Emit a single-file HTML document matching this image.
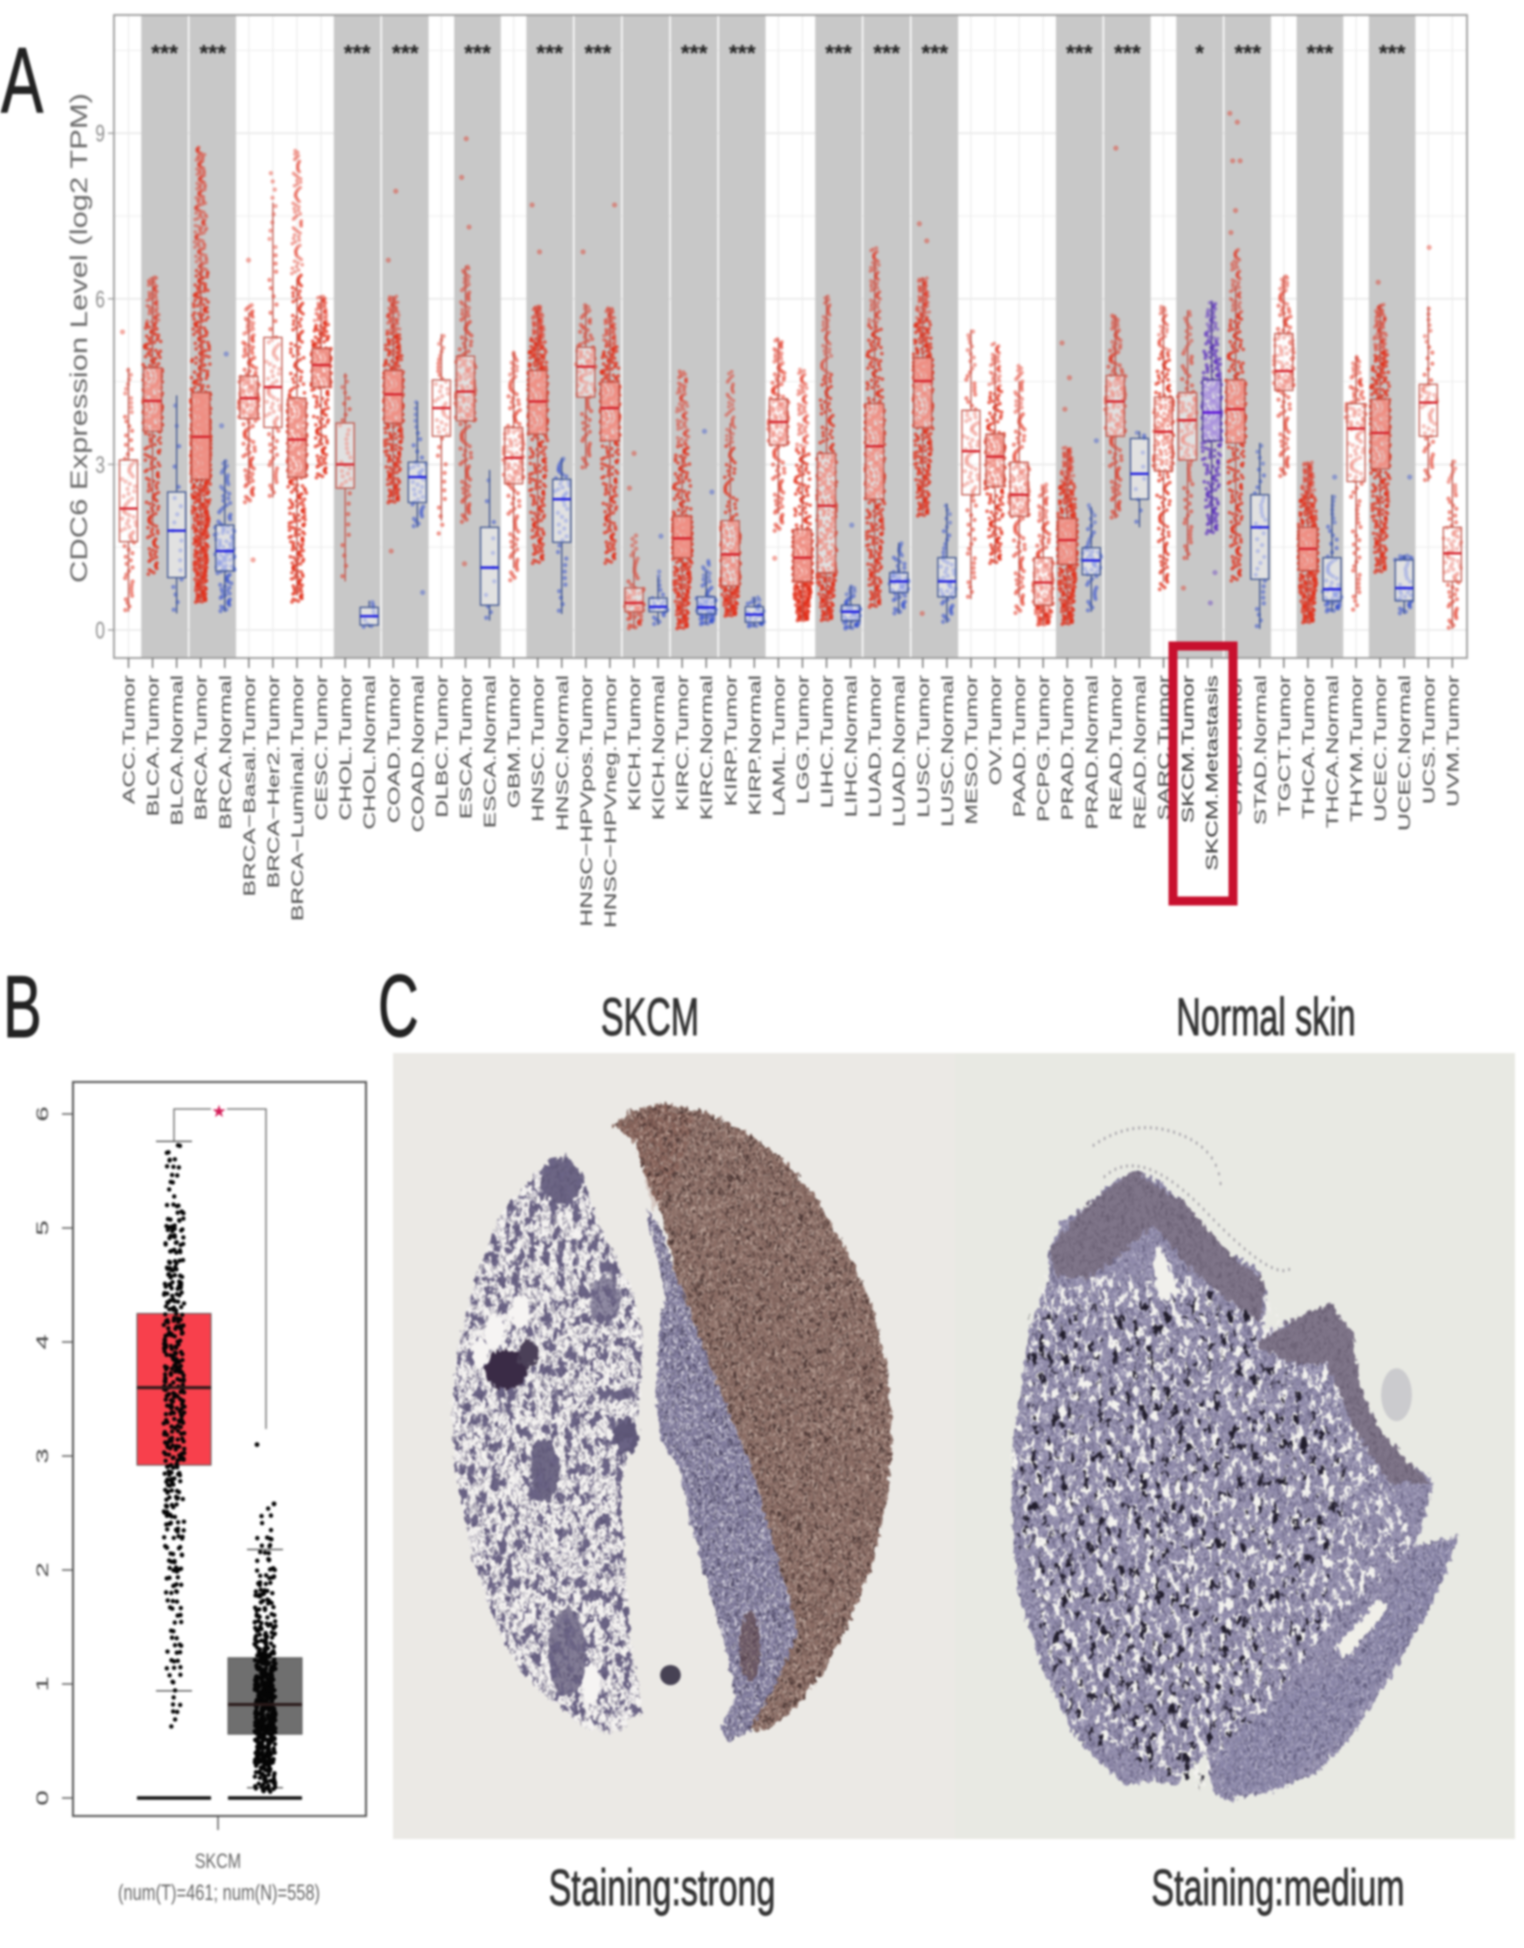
<!DOCTYPE html>
<html lang="en">
<head>
<meta charset="utf-8">
<title>CDC6 expression figure</title>
<style>
html,body{margin:0;padding:0;background:#fff}
svg{display:block;filter:blur(1px)}
text{font-family:"Liberation Sans",sans-serif}
</style>
</head>
<body>
<svg id="fig" xmlns="http://www.w3.org/2000/svg" width="1524" height="1948" viewBox="0 0 1524 1948">
<defs>
<filter id="rough" x="-5%" y="-5%" width="110%" height="110%" color-interpolation-filters="sRGB">
  <feTurbulence type="fractalNoise" baseFrequency=".09" numOctaves="2" seed="3" result="n"/>
  <feDisplacementMap in="SourceGraphic" in2="n" scale="22" xChannelSelector="R" yChannelSelector="G"/>
</filter>
<filter id="netCoarse" x="0" y="0" width="1" height="1" color-interpolation-filters="sRGB">
  <feTurbulence type="fractalNoise" baseFrequency=".05" numOctaves="4" seed="11"/>
  <feColorMatrix type="matrix" values="0 0 0 0 0 0 0 0 0 0 0 0 0 0 0 26 0 0 0 -14.3" result="m"/>
  <feComposite in="SourceGraphic" in2="m" operator="in"/>
</filter>
<filter id="speckDark" x="0" y="0" width="1" height="1" color-interpolation-filters="sRGB">
  <feTurbulence type="fractalNoise" baseFrequency=".16" numOctaves="2" seed="5"/>
  <feColorMatrix type="matrix" values="0 0 0 0 0 0 0 0 0 0 0 0 0 0 0 18 0 0 0 -10" result="m"/>
  <feComposite in="SourceGraphic" in2="m" operator="in"/>
</filter>
<filter id="speckLight" x="0" y="0" width="1" height="1" color-interpolation-filters="sRGB">
  <feTurbulence type="fractalNoise" baseFrequency=".18" numOctaves="2" seed="23"/>
  <feColorMatrix type="matrix" values="0 0 0 0 0 0 0 0 0 0 0 0 0 0 0 18 0 0 0 -10.2" result="m"/>
  <feComposite in="SourceGraphic" in2="m" operator="in"/>
</filter>
<filter id="holesMid" x="0" y="0" width="1" height="1" color-interpolation-filters="sRGB">
  <feTurbulence type="fractalNoise" baseFrequency=".06" numOctaves="4" seed="31"/>
  <feColorMatrix type="matrix" values="0 0 0 0 0 0 0 0 0 0 0 0 0 0 0 20 0 0 0 -11.3" result="m"/>
  <feComposite in="SourceGraphic" in2="m" operator="in"/>
</filter>
<filter id="darkMid" x="0" y="0" width="1" height="1" color-interpolation-filters="sRGB">
  <feTurbulence type="fractalNoise" baseFrequency=".05" numOctaves="3" seed="47"/>
  <feColorMatrix type="matrix" values="0 0 0 0 0 0 0 0 0 0 0 0 0 0 0 20 0 0 0 -12.8" result="m"/>
  <feComposite in="SourceGraphic" in2="m" operator="in"/>
</filter>
<path id="fatOutline" d="M500 310L550 345L600 430L680 520L710 600L700 720L650 830L660 950L680 1100L710 1190L640 1225L560 1220L470 1180L380 1130L310 1050L250 950L200 800L195 700L210 620L260 500L330 400L420 340Z"/>
<path id="brownOutline" d="M630 262L680 238L760 228L880 240L980 270L1080 310L1180 380L1270 470L1330 550L1370 640L1385 760L1370 860L1330 960L1270 1050L1200 1130L1100 1200L1030 1225L1000 1220L1060 1160L1130 1070L1100 1000L1050 900L1000 800L930 700L860 590L800 500L760 400L720 350L690 290Z"/>
<path id="blueOutline" d="M720 395L760 430L800 500L860 590L930 700L1000 800L1050 900L1100 1000L1130 1070L1060 1160L1030 1215L940 1240L920 1220L960 1170L930 1080L880 980L840 890L810 810L760 760L745 700L755 590L770 530L740 450Z"/>
<path id="skinOutline" d="M270 460L300 420L370 390L430 360L500 335L570 350L640 385L700 430L770 470L840 490L865 530L855 590L940 570L1040 545L1100 590L1120 680L1180 750L1260 800L1320 825L1300 880L1270 930L1390 915L1350 980L1290 1050L1200 1140L1100 1230L1000 1290L880 1320L760 1335L720 1320L700 1260L640 1290L620 1310L560 1300L480 1310L400 1270L330 1220L250 1120L190 1010L170 900L170 770L190 690L220 580L270 510Z"/>
<path id="skinBandA" d="M270 460L370 390L500 335L640 385L770 470L860 510L850 575L760 540L640 480L560 420L460 470L380 505L290 500Z"/>
<path id="skinBandB" d="M835 610L940 570L1040 545L1100 590L1120 680L1180 750L1260 800L1310 830L1200 830L1100 740L1030 640L930 640Z"/>
<path id="skinSolid" d="M1270 940L1380 925L1320 1020L1190 1130L1060 1240L880 1315L745 1325L730 1260L900 1170L1100 1120Z"/>
</defs>

<rect width="1524" height="1948" fill="#fff"/>

<g id="panelA"></g>

<text transform="translate(1,112) scale(.68,1)" font-size="93" fill="#222" stroke="#222" stroke-width="1">A</text>
<text transform="translate(3,1037) scale(.66,1)" font-size="88" fill="#222" stroke="#222" stroke-width="1">B</text>
<text transform="translate(378,1036) scale(.64,1)" font-size="88" fill="#222" stroke="#222" stroke-width="1">C</text>

<g id="panelB"></g>

<g>
  <rect x="393" y="1053" width="562" height="786" fill="#ebe9e5"/>
  <rect x="955" y="1053" width="560" height="786" fill="#e8e9e3"/>

  <g transform="translate(380 960) scale(.37 .63)">
    <g filter="url(#rough)">
      <use href="#fatOutline" fill="#f4f2f1"/>
      <ellipse cx="490" cy="350" rx="55" ry="35" fill="#6d6685"/>
      <ellipse cx="445" cy="810" rx="38" ry="50" fill="#6f6986"/>
      <ellipse cx="505" cy="1100" rx="50" ry="70" fill="#6f6986" opacity=".85"/>
      <ellipse cx="665" cy="755" rx="35" ry="28" fill="#5f5879"/>
      <ellipse cx="610" cy="540" rx="40" ry="40" fill="#777190" opacity=".8"/>
      <use href="#fatOutline" fill="#6b6486" filter="url(#netCoarse)"/>
      <use href="#fatOutline" fill="#57506f" filter="url(#speckDark)" opacity=".6"/>
      <ellipse cx="340" cy="650" rx="55" ry="32" fill="#3a2b46"/>
      <ellipse cx="400" cy="625" rx="25" ry="22" fill="#4b4058"/>
      <ellipse cx="310" cy="590" rx="28" ry="28" fill="#f6f4f3"/>
      <ellipse cx="270" cy="625" rx="22" ry="24" fill="#f6f4f3"/>
      <ellipse cx="380" cy="560" rx="28" ry="26" fill="#f6f4f3"/>
      <ellipse cx="570" cy="1150" rx="24" ry="34" fill="#f6f4f3"/>
      <use href="#blueOutline" fill="#827d9e"/>
      <use href="#blueOutline" fill="#3f3a55" filter="url(#speckDark)" opacity=".7"/>
      <use href="#blueOutline" fill="#e6e4ec" filter="url(#speckLight)" opacity=".75"/>
      <use href="#brownOutline" fill="#8a6c64"/>
      <path d="M640 262L760 232L850 250L800 340L740 400L690 290Z" fill="#7d3f33" opacity=".2"/>
      <ellipse cx="1000" cy="1090" rx="28" ry="55" fill="#54332e" opacity=".5"/>
      <use href="#brownOutline" fill="#3a2827" filter="url(#speckDark)" opacity=".75"/>
      <use href="#brownOutline" fill="#c8b2a8" filter="url(#speckLight)" opacity=".7"/>
    </g>
    <ellipse cx="785" cy="1135" rx="28" ry="16" fill="#474254"/>
  </g>

  <g transform="translate(950 960) scale(.366 .63)">
    <g filter="url(#rough)">
      <use href="#skinOutline" fill="#8f8aaa"/>
      <use href="#skinOutline" fill="#4e4968" filter="url(#speckDark)" opacity=".6"/>
      <use href="#skinOutline" fill="#c6c3d6" filter="url(#speckLight)" opacity=".6"/>
      <path d="M250 500L800 500L1120 700L1270 930L1000 1080L700 1320L300 1200L160 800Z" fill="#f3f2ef" filter="url(#holesMid)"/>
      <path d="M220 560L760 520L1100 800L1000 1080L700 1320L330 1230L170 900Z" fill="#211d2c" filter="url(#darkMid)"/>
      <use href="#skinBandA" fill="#7f7589"/>
      <use href="#skinBandB" fill="#7f7589"/>
      <use href="#skinSolid" fill="#8a86a8"/>
      <use href="#skinBandA" fill="#55495e" filter="url(#speckDark)" opacity=".45"/>
      <use href="#skinBandB" fill="#55495e" filter="url(#speckDark)" opacity=".45"/>
      <use href="#skinSolid" fill="#4e4968" filter="url(#speckDark)" opacity=".6"/>
      <use href="#skinSolid" fill="#c6c3d6" filter="url(#speckLight)" opacity=".6"/>
      <path d="M570 450L630 530L570 540L555 480Z" fill="#f1f0ec"/>
      <path d="M1050 1090L1180 1010L1195 1030L1085 1110Z" fill="#f0efe9"/>
    </g>
    <ellipse cx="1220" cy="690" rx="42" ry="42" fill="#a8a6b4" opacity=".45"/>
    <path d="M390 295Q500 250 620 275T740 365M420 345Q520 290 700 400T930 490" fill="none" stroke="#75707f" stroke-width="5" stroke-dasharray="5 11" opacity=".55"/>
  </g>

  <text transform="translate(650,1035) scale(1,1.55)" text-anchor="middle" font-size="34" fill="#333" stroke="#333" stroke-width=".6">SKCM</text>
  <text transform="translate(1266,1035) scale(1,1.55)" text-anchor="middle" font-size="34" fill="#333" stroke="#333" stroke-width=".6">Normal skin</text>
  <text transform="translate(662,1905) scale(1,1.5)" text-anchor="middle" font-size="34" fill="#333" stroke="#333" stroke-width=".6">Staining:strong</text>
  <text transform="translate(1278,1905) scale(1,1.5)" text-anchor="middle" font-size="34" fill="#333" stroke="#333" stroke-width=".6">Staining:medium</text>
</g>
</svg>

<script>
// ---------- Panel A data ----------
const categories = ["ACC.Tumor","BLCA.Tumor","BLCA.Normal","BRCA.Tumor","BRCA.Normal","BRCA\u2212Basal.Tumor","BRCA\u2212Her2.Tumor","BRCA\u2212Luminal.Tumor","CESC.Tumor","CHOL.Tumor","CHOL.Normal","COAD.Tumor","COAD.Normal","DLBC.Tumor","ESCA.Tumor","ESCA.Normal","GBM.Tumor","HNSC.Tumor","HNSC.Normal","HNSC\u2212HPVpos.Tumor","HNSC\u2212HPVneg.Tumor","KICH.Tumor","KICH.Normal","KIRC.Tumor","KIRC.Normal","KIRP.Tumor","KIRP.Normal","LAML.Tumor","LGG.Tumor","LIHC.Tumor","LIHC.Normal","LUAD.Tumor","LUAD.Normal","LUSC.Tumor","LUSC.Normal","MESO.Tumor","OV.Tumor","PAAD.Tumor","PCPG.Tumor","PRAD.Tumor","PRAD.Normal","READ.Tumor","READ.Normal","SARC.Tumor","SKCM.Tumor","SKCM.Metastasis","STAD.Tumor","STAD.Normal","TGCT.Tumor","THCA.Tumor","THCA.Normal","THYM.Tumor","UCEC.Tumor","UCEC.Normal","UCS.Tumor","UVM.Tumor"];
const q1Values = [1.6,3.6,.95,2.73,1.07,3.83,3.67,2.77,4.4,2.57,.09,3.75,2.31,3.51,3.79,.45,2.65,3.55,1.59,4.22,3.43,.33,.33,1.31,.29,.8,.14,3.35,.88,1.04,.17,2.37,.68,3.67,.6,2.45,2.6,2.06,.45,1.19,1.0,3.51,2.37,2.88,3.08,3.43,3.39,.92,4.34,1.08,.53,2.69,2.92,.53,3.51,.88];
const medianValues = [2.2,4.15,1.8,3.5,1.43,4.2,4.4,3.45,4.8,3.0,.25,4.27,2.77,4.02,4.32,1.13,3.12,4.14,2.37,4.77,4.02,.49,.42,1.66,.41,1.37,.28,3.77,1.31,2.25,.33,3.33,.88,4.51,.88,3.24,3.14,2.45,.86,1.63,1.26,4.14,2.83,3.59,3.8,3.94,4.0,1.86,4.69,1.47,.74,3.65,3.57,.76,4.12,1.39];
const q3Values = [3.08,4.75,2.5,4.3,1.9,4.6,5.3,4.2,5.1,3.75,.41,4.7,3.04,4.53,4.96,1.86,3.67,4.7,2.73,5.12,4.49,.76,.58,2.06,.6,1.98,.42,4.18,1.82,3.2,.45,4.1,1.04,4.93,1.31,3.98,3.55,3.04,1.31,2.02,1.49,4.61,3.47,4.22,4.3,4.53,4.53,2.45,5.37,1.86,1.31,4.1,4.18,1.27,4.45,1.86];
const lowValues = [.33,1.0,.3,.5,.33,2.3,2.4,.5,2.75,.88,.05,2.3,1.86,1.67,1.94,.17,.88,1.2,.29,2.92,1.2,.02,.09,.02,.1,.25,.06,1.78,.17,.17,.02,.41,.29,2.06,.13,.56,1.2,.29,.09,.1,.33,2.02,1.86,.72,1.27,1.74,.88,.02,2.77,.13,.33,.33,1.04,.29,2.69,.02];
const highValues = [4.75,6.4,4.25,8.75,3.08,5.9,8.35,8.7,6.05,4.65,.53,6.05,4.18,5.36,6.6,2.9,5.04,5.87,3.12,5.9,5.84,1.74,1.1,4.7,1.27,4.7,.6,5.28,4.73,6.06,.8,6.93,1.59,6.38,2.29,5.44,5.2,4.8,2.65,3.31,2.29,5.71,3.6,5.87,5.79,5.95,6.9,3.39,6.42,3.04,2.45,4.96,5.9,1.35,5.87,3.08];
const sampleCounts = [79,408,19,1093,112,191,82,566,304,36,9,457,41,47,184,11,153,520,44,97,421,66,25,533,72,290,32,173,516,371,50,515,59,501,51,87,303,178,179,497,52,166,10,259,103,368,415,35,150,501,59,120,545,35,57,80];
const outlierCategoryIndex = [0,4,4,5,5,11,11,11,12,14,14,14,14,17,17,19,20,21,21,22,24,24,30,33,33,33,39,39,39,40,41,44,45,45,46,46,46,46,46,46,50,52,53,54,27];
const outlierValues = [5.4,5.0,3.7,1.27,6.7,6.7,7.95,1.43,.68,8.9,8.2,7.3,1.2,7.7,6.85,6.85,7.7,3.2,2.57,1.7,3.6,2.5,1.9,7.36,7.05,.3,5.2,4.57,4.0,3.43,8.73,.76,1.04,.49,9.36,9.2,8.5,8.5,7.6,7.2,2.77,6.3,2.77,6.93,1.3];
const significantBandStart = [1,3,9,11,14,17,19,21,23,25,29,31,33,39,41,44,46,49,52];
const significanceLabels = ["***","***","***","***","***","***","***","","***","***","***","***","***","***","***","*","***","***","***"];
const yTickValuesA = [0,3,6,9];
const yGridValuesA = [0,1.5,3,4.5,6,7.5,9,10.5];

// ---------- Panel B data ----------
const skcmBoxNames = ["Tumor","Normal"];
const skcmQ1 = [2.92,.56];
const skcmMedian = [3.6,.82];
const skcmQ3 = [4.25,1.23];
const skcmWhiskerLow = [.94,.09];
const skcmWhiskerHigh = [5.76,2.18];
const skcmTumorBinStart = .5;
const skcmTumorBinCounts = [2,6,10,10,10,14,18,22,24,32,34,36,38,38,34,30,28,24,18,6,10];
const skcmNormalBinStart = .05;
const skcmNormalBinCounts = [50,90,115,105,80,45,30,22,14,5];
const skcmNormalExtremes = [2.58,3.1];
const skcmBinWidth = .25;
const yTickValuesB = [0,1,2,3,4,5,6];

const NS = "http://www.w3.org/2000/svg";
function mk(parent, tag, attrs, txt){
  const el = document.createElementNS(NS, tag);
  for (const k in attrs) el.setAttribute(k, attrs[k]);
  if (txt !== undefined) el.textContent = txt;
  parent.appendChild(el);
  return el;
}

// ---------- Panel A drawing ----------
(function(){
  const root = document.getElementById("panelA");
  const L=114,R=1467,T=15,B=658;
  const xA = i => 128.5 + 24.07*i;
  const yA = v => 630 - 55.2*v;

  const bg = mk(root,"rect",{x:L,y:T,width:R-L,height:B-T,fill:"#fff"});
  
  

  yGridValuesA.forEach(v=>{
    const g = mk(root,"line",{x1:L,x2:R,y1:yA(v),y2:yA(v),stroke:"#e9e9e9","stroke-width":v%3===0?1.6:.8});
    
    
  });
  categories.forEach((c,i)=>{
    const g = mk(root,"line",{x1:xA(i),x2:xA(i),y1:T,y2:B,stroke:"#ececec","stroke-width":1.2});
    
    
  });
  significantBandStart.forEach(s=>{
    const b = mk(root,"rect",{x:xA(s)-11.3,y:T,width:46.6,height:B-T,fill:"#c8c8c8"});
    
    
  });

  function palette(name){
    if (name.indexOf("Normal")>=0) return {dot:"#3550d0",edge:"#39508f",med:"#1a1ae0"};
    if (name.indexOf("Metastasis")>=0) return {dot:"#6236c0",edge:"#4a3a90",med:"#5a12d8"};
    return {dot:"#e2301c",edge:"#c0554a",med:"#d5202a"};
  }

  categories.forEach((name,i)=>{
    const col = palette(name);
    const knots = [lowValues[i],q1Values[i],medianValues[i],q3Values[i],highValues[i]];
    const n = sampleCounts[i];
    const group = mk(root,"g",{});
    
    

    for (let k=0;k<n;k++){
      const u = (k+.5)/n*4;
      const seg = Math.min(3,Math.floor(u));
      const f = u-seg;
      const v = knots[seg]+(knots[seg+1]-knots[seg])*f;
      const perUnit = n*.25/Math.max(.05,knots[seg+1]-knots[seg]);
      let hw = Math.min(10,4.5+.1*perUnit);
      if (seg===0) hw *= .5+.5*f;
      if (seg===3) hw *= 1-.6*f;
      const jitter = ((k*.6180339887+(k*k%97)*.0317)%1)*2-1;
      const p = mk(group,"circle",{cx:xA(i)+jitter*hw,cy:yA(v),r:n>250?1.9:2.2,fill:col.dot,"fill-opacity":seg===3&&f>.5?.42:(n>250?.68:.52)});
      
      
    }

    const iqr = q3Values[i]-q1Values[i];
    const whiskTop = Math.min(highValues[i],q3Values[i]+1.5*iqr);
    const whiskBot = Math.max(lowValues[i],q1Values[i]-1.5*iqr);
    const w1 = mk(group,"line",{x1:xA(i),x2:xA(i),y1:yA(q3Values[i]),y2:yA(whiskTop),stroke:col.edge,"stroke-width":1.3});
    
    
    const w2 = mk(group,"line",{x1:xA(i),x2:xA(i),y1:yA(q1Values[i]),y2:yA(whiskBot),stroke:col.edge,"stroke-width":1.3});
    
    
    const box = mk(group,"rect",{x:xA(i)-9,y:yA(q3Values[i]),width:18,height:yA(q1Values[i])-yA(q3Values[i]),fill:"#fff","fill-opacity":.46,stroke:col.edge,"stroke-width":1.3});
    
    
    const med = mk(group,"line",{x1:xA(i)-9,x2:xA(i)+9,y1:yA(medianValues[i]),y2:yA(medianValues[i]),stroke:col.med,"stroke-width":2.4});
    
    
  });

  outlierValues.forEach((v,j)=>{
    const idx = outlierCategoryIndex[j];
    const col = palette(categories[idx]);
    const o = mk(root,"circle",{cx:xA(idx)+((j*.618)%1-.5)*12,cy:yA(v),r:2.6,fill:col.dot,"fill-opacity":.42});
    
    
  });

  significantBandStart.forEach((s,j)=>{
    const t = mk(root,"text",{x:(xA(s)+xA(s+1))/2,y:61,"text-anchor":"middle","font-size":23,"font-weight":"bold",fill:"#222"},significanceLabels[j]);
    
    
  });

  const frame = mk(root,"rect",{x:L,y:T,width:R-L,height:B-T,fill:"none",stroke:"#9a9a9a","stroke-width":1.8});
  
  

  yTickValuesA.forEach(v=>{
    const tk = mk(root,"line",{x1:L-6,x2:L,y1:yA(v),y2:yA(v),stroke:"#999","stroke-width":1.3});
    
    
    const tl = mk(root,"text",{transform:"translate(105,"+(yA(v)+8.5)+") scale(1,1.4)","text-anchor":"end","font-size":17.5,fill:"#8e8e8e"},String(v));
    
    
  });

  categories.forEach((name,i)=>{
    const tk = mk(root,"line",{x1:xA(i),x2:xA(i),y1:B,y2:B+10,stroke:"#666","stroke-width":1.3});
    
    
    const tl = mk(root,"text",{transform:"translate("+(xA(i)+6)+",675) rotate(-90) scale(1.45,1)","text-anchor":"end","font-size":17,fill:name==="SKCM.Metastasis"||name==="SKCM.Tumor"?"#333":"#4c4c4c"},name);
    
    
  });

  const yTitle = mk(root,"text",{transform:"translate(87,338) rotate(-90)","text-anchor":"middle","font-size":24,fill:"#6a6a6a",textLength:490,lengthAdjust:"spacingAndGlyphs"},"CDC6 Expression Level (log2 TPM)");
  
  

  const hl = mk(root,"rect",{x:1173,y:646,width:60,height:255,fill:"none",stroke:"#c8102e","stroke-width":9});
  
  
})();

// ---------- Panel B drawing ----------
(function(){
  const root = document.getElementById("panelB");
  const L=73,R=366,T=1082,B=1816;
  const yB = v => 1798 - 114*v;
  const boxCenter = [174,265];
  const boxLeft = [137,228];
  const boxRight = [211,302];
  const boxFill = ["#f8404c","#6f6f6f"];
  const capHalf = 18;

  const bg = mk(root,"rect",{x:L,y:T,width:R-L,height:B-T,fill:"#fff"});
  
  

  skcmBoxNames.forEach((name,i)=>{
    const box = mk(root,"rect",{x:boxLeft[i],y:yB(skcmQ3[i]),width:boxRight[i]-boxLeft[i],height:yB(skcmQ1[i])-yB(skcmQ3[i]),fill:boxFill[i],stroke:"#555","stroke-width":1});
    
    
    const z = mk(root,"line",{x1:boxLeft[i],x2:boxRight[i],y1:yB(0),y2:yB(0),stroke:"#111","stroke-width":3.5});
    
    
    const wTop = mk(root,"line",{x1:boxCenter[i]-capHalf,x2:boxCenter[i]+capHalf,y1:yB(skcmWhiskerHigh[i]),y2:yB(skcmWhiskerHigh[i]),stroke:"#444","stroke-width":1.2});
    
    
    const wBot = mk(root,"line",{x1:boxCenter[i]-capHalf,x2:boxCenter[i]+capHalf,y1:yB(skcmWhiskerLow[i]),y2:yB(skcmWhiskerLow[i]),stroke:"#444","stroke-width":1.2});
    
    
  });

  function drawBins(counts,start,cx,prefix){
    let idx = 0;
    counts.forEach((cnt,b)=>{
      for (let k=0;k<cnt;k++){
        idx++;
        const v = start + skcmBinWidth*(b+((idx*.7548776662)%1));
        const off = ((idx*.5698402910+(idx*idx%89)*.0293)%1)*2-1;
        const d = mk(root,"circle",{cx:cx+off*Math.min(10.5,5+cnt*.25),cy:yB(v),r:2.2,fill:"#050505"});
        
        
      }
    });
  }
  drawBins(skcmTumorBinCounts,skcmTumorBinStart,boxCenter[0],"tumor");
  drawBins(skcmNormalBinCounts,skcmNormalBinStart,boxCenter[1],"normal");
  skcmNormalExtremes.forEach((v,j)=>{
    const e = mk(root,"circle",{cx:j===0?274:257,cy:yB(v),r:2.4,fill:"#050505"});
    
    
  });

  skcmBoxNames.forEach((name,i)=>{
    const m = mk(root,"line",{x1:boxLeft[i],x2:boxRight[i],y1:yB(skcmMedian[i]),y2:yB(skcmMedian[i]),stroke:"#2a1a1a","stroke-width":3});
    
    
  });

  const br = mk(root,"path",{d:"M174 1141V1109H266V1429",fill:"none",stroke:"#666","stroke-width":1.3});
  
  
  const mask = mk(root,"rect",{x:211,y:1104,width:16,height:10,fill:"#fff"});
  
  
  const st = mk(root,"text",{x:219,y:1117,"text-anchor":"middle","font-size":17,fill:"#d4205a","font-family":"DejaVu Sans"},"\u2605");
  
  

  const frame = mk(root,"rect",{x:L,y:T,width:R-L,height:B-T,fill:"none",stroke:"#555","stroke-width":2});
  
  

  yTickValuesB.forEach(v=>{
    const tk = mk(root,"line",{x1:62,x2:L,y1:yB(v),y2:yB(v),stroke:"#555","stroke-width":1.4});
    
    
    const tl = mk(root,"text",{transform:"translate(48,"+yB(v)+") rotate(-90) scale(1.6,1)","text-anchor":"middle","font-size":17,fill:"#444"},String(v));
    
    
  });

  const xt = mk(root,"line",{x1:218,x2:218,y1:B,y2:1830,stroke:"#555","stroke-width":1.4});
  
  
  const l1 = mk(root,"text",{transform:"translate(218,1868) scale(1,1.35)","text-anchor":"middle","font-size":16,fill:"#666"},"SKCM");
  
  
  const l2 = mk(root,"text",{transform:"translate(219,1900) scale(1,1.35)","text-anchor":"middle","font-size":16.5,fill:"#666",textLength:202,lengthAdjust:"spacingAndGlyphs"},"(num(T)=461; num(N)=558)");
  
  
})();
</script>
</body>
</html>
